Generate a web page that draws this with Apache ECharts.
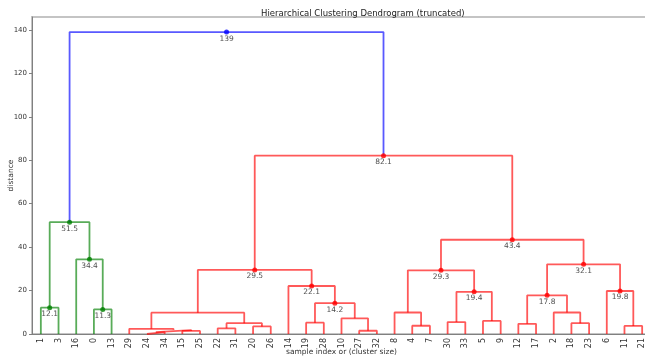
<!DOCTYPE html>
<html>
<head>
<meta charset="utf-8">
<script src="https://cdn.jsdelivr.net/npm/echarts@6/dist/echarts.min.js"></script>
<style>
  html, body { margin: 0; padding: 0; background: #fff; }
  #chart { width: 645px; height: 360px; }
</style>
</head>
<body>
<div id="chart"></div>
<script>
// leaf order along the x axis (sample indices)
const leafOrder = [1, 3, 16, 0, 13, 29, 24, 34, 15, 25, 22, 31, 20, 26, 14, 19, 28, 10,
  27, 32, 8, 4, 7, 30, 33, 5, 9, 12, 17, 2, 18, 23, 6, 11, 21];

// linkage: [childA, childB, distance]; ids >= 35 are earlier merges (35 + row)
const merges = [
  [24, 34, 0.9], [15, 25, 1.4], [27, 32, 1.5], [35, 36, 1.8], [29, 38, 2.4],
  [22, 31, 2.6], [20, 26, 3.5], [11, 21, 3.7], [4, 7, 3.8], [12, 17, 4.7],
  [40, 41, 5.0], [18, 23, 5.0], [19, 28, 5.2], [30, 33, 5.5], [5, 9, 6.0],
  [10, 37, 7.2], [39, 45, 9.8], [8, 43, 9.9], [2, 46, 9.9], [0, 13, 11.3],
  [1, 3, 12.1], [47, 50, 14.2], [44, 53, 17.8], [48, 49, 19.4], [6, 42, 19.8],
  [14, 56, 22.1], [52, 58, 29.3], [51, 60, 29.5], [57, 59, 32.1], [16, 54, 34.4],
  [61, 63, 43.4], [55, 64, 51.5], [62, 65, 82.1], [66, 67, 139]
];

const yTicks = [0, 20, 40, 60, 80, 100, 120, 140];
const annotateAbove = 10;
const nLeaves = leafOrder.length;
const colorThreshold = 0.7 * merges[merges.length - 1][2];

const lineColors = ['#008000', '#ff0000'];
const aboveColor = '#0000ff';

// positions of every node
const nodeX = {}, nodeY = {};
leafOrder.forEach((leaf, i) => { nodeX[leaf] = 5 + 10 * i; nodeY[leaf] = 0; });
merges.forEach((m, k) => {
  const id = nLeaves + k;
  nodeX[id] = (nodeX[m[0]] + nodeX[m[1]]) / 2;
  nodeY[id] = m[2];
});

// colour of each link: clusters below threshold get the next palette colour
const linkColor = {};
let colorIdx = 0;
function paint(id, color) {
  if (id < nLeaves) return;
  const m = merges[id - nLeaves];
  linkColor[id] = color;
  paint(m[0], color);
  paint(m[1], color);
}
// walk from the root, left-most child first
const rootId = nLeaves + merges.length - 1;
(function walk(id) {
  if (id < nLeaves) return;
  const m = merges[id - nLeaves];
  if (m[2] > colorThreshold) {
    linkColor[id] = aboveColor;
    [m[0], m[1]].sort((a, b) => nodeX[a] - nodeX[b]).forEach(walk);
  } else {
    paint(id, lineColors[colorIdx % lineColors.length]);
    colorIdx++;
  }
})(rootId);

const series = [];
merges.forEach((m, k) => {
  const id = nLeaves + k;
  const a = m[0], b = m[1], d = m[2];
  series.push({
    type: 'line',
    xAxisIndex: 0,
    data: [[nodeX[a], nodeY[a]], [nodeX[a], d], [nodeX[b], d], [nodeX[b], nodeY[b]]],
    showSymbol: false,
    silent: true,
    lineStyle: { color: linkColor[id], width: 1.8, opacity: 0.65 },
    z: 2
  });
});

const points = [];
merges.forEach((m, k) => {
  const id = nLeaves + k;
  if (m[2] > annotateAbove) {
    points.push({ value: [nodeX[id], m[2]], itemStyle: { color: linkColor[id] } });
  }
});
series.push({
  type: 'scatter',
  xAxisIndex: 0,
  data: points,
  symbolSize: 5,
  silent: true,
  z: 5,
  label: {
    show: true,
    position: 'bottom',
    distance: 0,
    color: '#222',
    fontSize: 7.5,
    fontFamily: 'DejaVu Sans',
    formatter: p => String(Number(p.value[1].toPrecision(3)))
  }
});

const chart = echarts.init(document.getElementById('chart'));
chart.setOption({
  animation: false,
  backgroundColor: '#fff',
  title: {
    text: 'Hierarchical Clustering Dendrogram (truncated)',
    left: 256,
    top: 4,
    textStyle: { fontSize: 8.5, fontWeight: 'normal', color: '#222', fontFamily: 'DejaVu Sans' }
  },
  grid: {
    left: 32, right: -6, top: 17, bottom: 26,
    containLabel: false,
    outerBoundsMode: 'none',
    show: true, borderColor: '#c4c4c4', borderWidth: 2
  },
  xAxis: [
    {
      type: 'value', min: 0, max: 350,
      show: false
    },
    {
      type: 'category',
      data: leafOrder.map(String),
      boundaryGap: true,
      position: 'bottom',
      name: 'sample index or (cluster size)',
      nameLocation: 'middle',
      nameGap: 14,
      nameMoveOverlap: false,
      nameTextStyle: { fontSize: 7.5, color: '#333', fontFamily: 'DejaVu Sans' },
      axisLine: { lineStyle: { color: '#808080', width: 1 } },
      axisTick: { show: false },
      axisLabel: {
        rotate: 90, fontSize: 8, color: '#333', margin: 4, interval: 0,
        fontFamily: 'DejaVu Sans'
      },
      splitLine: { show: false }
    }
  ],
  yAxis: {
    type: 'value', min: 0, max: 145.95,
    name: 'distance',
    nameLocation: 'middle',
    nameGap: 17,
    nameMoveOverlap: false,
    nameTextStyle: { fontSize: 7.5, color: '#333', fontFamily: 'DejaVu Sans' },
    axisLine: { show: true, lineStyle: { color: '#808080', width: 1 } },
    axisTick: { show: true, length: 3, customValues: yTicks, lineStyle: { color: '#808080' } },
    axisLabel: { fontSize: 7, color: '#333', margin: 5, customValues: yTicks, fontFamily: 'DejaVu Sans' },
    splitLine: { show: false }
  },
  series: series
});
</script>
</body>
</html>
